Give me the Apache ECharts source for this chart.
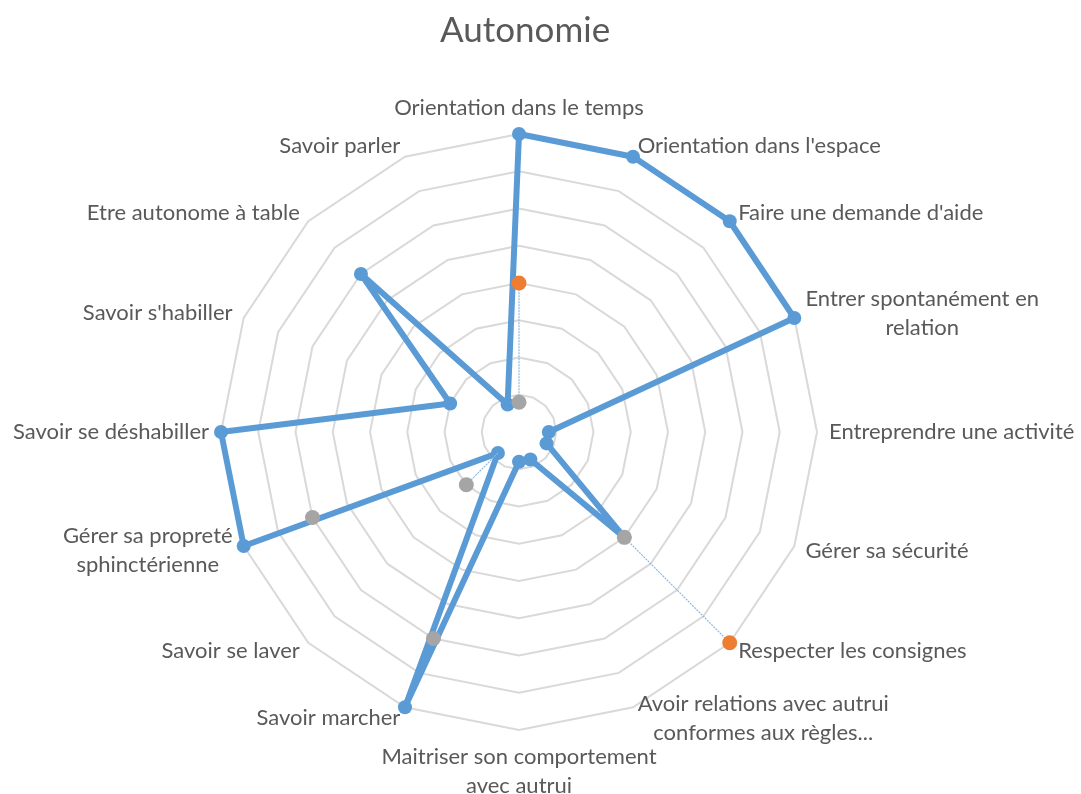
<!DOCTYPE html>
<html>
<head>
<meta charset="utf-8">
<title>Autonomie</title>
<script src="https://cdn.jsdelivr.net/npm/echarts@6/dist/echarts.min.js"></script>
<style>
  html, body { margin: 0; padding: 0; background: #fff; }
  #chart { width: 1081px; height: 794px; }
</style>
</head>
<body>
<div id="chart"></div>
<script>
// axes, clockwise from the top
const categories = [
  "Orientation dans le temps",
  "Orientation dans l'espace",
  "Faire une demande d'aide",
  "Entrer spontanément en\nrelation",
  "Entreprendre une activité",
  "Gérer sa sécurité",
  "Respecter les consignes",
  "Avoir relations avec autrui\nconformes aux règles...",
  "Maitriser son comportement\navec autrui",
  "Savoir marcher",
  "Savoir se laver",
  "Gérer sa propreté\nsphinctérienne",
  "Savoir se déshabiller",
  "Savoir s'habiller",
  "Etre autonome à table",
  "Savoir parler"
];
const serie1 = [4, 4, 4, 4, 0.4, 0.4, 2, 0.4, 0.4, 4, 0.4, 4, 4, 1, 3, 0.4];
const serie2 = [2, null, null, null, null, null, 4, null, null, null, null, null, null, null, null, null];
const serie3 = [0.4, null, null, null, null, null, 2, null, null, 3, 1, 3, null, null, null, null];
// thin connecting lines: [axis index, from, to]
const thinLines = [[0, 0.4, 2], [6, 2, 4], [10, 0.4, 1]];

const blue = '#5B9BD5';
const orange = '#ED7D31';
const grey = '#A5A5A5';
const textColor = '#595959';
const font = 'Lato';

// radar goes counter-clockwise, so feed it the axes in reverse
const order = categories.map((c, i) => (i === 0 ? 0 : categories.length - i));

function toPolar(arr) {
  return arr.map((v, i) => (v == null ? null : [v, i])).filter((p) => p);
}

const chart = echarts.init(document.getElementById('chart'));

let series = [
  {
    type: 'radar',
    symbol: 'circle',
    symbolSize: 14,
    lineStyle: { color: blue, width: 6 },
    itemStyle: { color: blue },
    z: 2,
    data: [{ name: 'Série1', value: order.map((i) => serie1[i]) }]
  }
];
thinLines.forEach((l) => {
  series.push({
    type: 'line',
    coordinateSystem: 'polar',
    showSymbol: false,
    silent: true,
    lineStyle: { color: '#8DB8E2', width: 1.2, type: [2, 1] },
    z: 3,
    data: [[l[1], l[0]], [l[2], l[0]]]
  });
});
series.push({
  type: 'scatter',
  coordinateSystem: 'polar',
  symbolSize: 15,
  itemStyle: { color: orange, opacity: 1 },
  z: 4,
  data: toPolar(serie2)
});
series.push({
  type: 'scatter',
  coordinateSystem: 'polar',
  symbolSize: 15,
  itemStyle: { color: grey, opacity: 1 },
  z: 5,
  data: toPolar(serie3)
});

const option = {
  animation: false,
  title: {
    text: 'Autonomie',
    left: 435,
    top: 8,
    textStyle: { color: textColor, fontSize: 35, fontWeight: 'normal', fontFamily: font }
  },
  radar: {
    center: [519, 432],
    radius: 298,
    startAngle: 90,
    splitNumber: 8,
    shape: 'polygon',
    nameGap: 12,
    indicator: order.map((i) => ({ name: categories[i], min: 0, max: 4 })),
    axisName: {
      color: textColor,
      fontSize: 22,
      fontFamily: font,
      lineHeight: 29,
      formatter: (name) => name.split('\n').map((s) => '{c|' + s + '}').join('\n'),
      rich: {
        c: { align: 'center', color: textColor, fontSize: 22, fontFamily: font, lineHeight: 29 }
      }
    },
    axisLine: { show: false },
    axisTick: { show: false },
    axisLabel: { show: false },
    splitArea: { show: false },
    splitLine: { lineStyle: { color: '#D9D9D9', width: 2 } }
  },
  polar: { center: [519, 432], radius: 298 },
  angleAxis: {
    type: 'value',
    min: 0,
    max: 16,
    startAngle: 90,
    clockwise: true,
    show: false,
    axisLine: { show: false },
    splitLine: { show: false }
  },
  radiusAxis: {
    type: 'value',
    min: 0,
    max: 4,
    show: false,
    axisLine: { show: false },
    splitLine: { show: false }
  },
  series: series
};

chart.setOption(option);
</script>
</body>
</html>
